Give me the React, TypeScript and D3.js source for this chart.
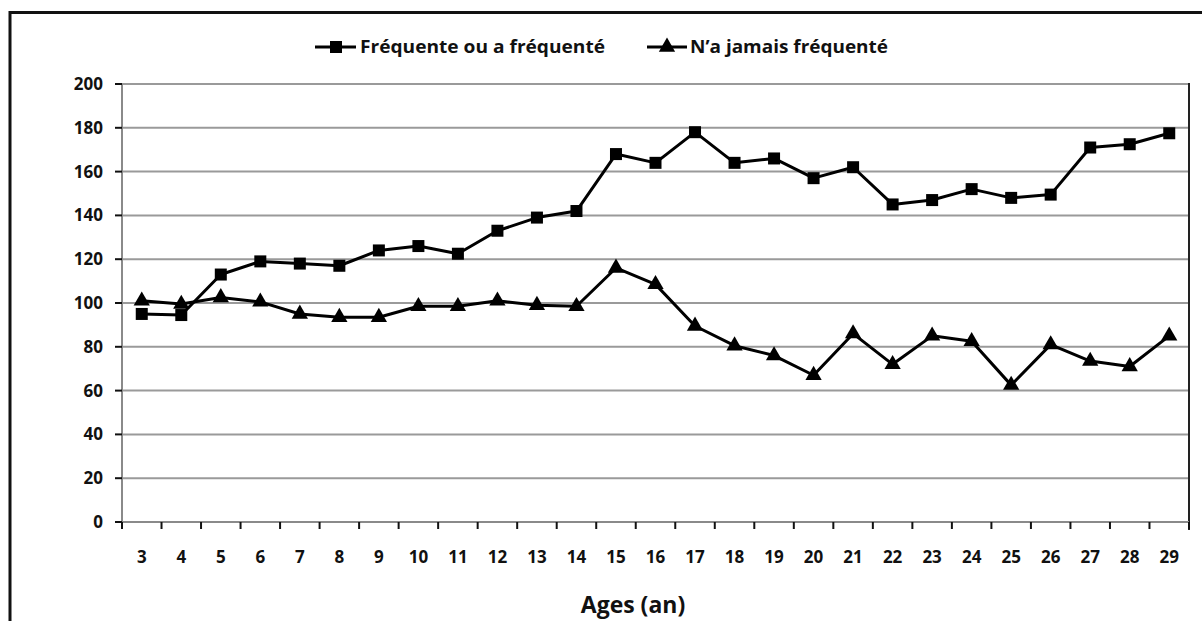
import React from "react";
import * as d3 from "d3";

const ages: number[] = [3,4,5,6,7,8,9,10,11,12,13,14,15,16,17,18,19,20,21,22,23,24,25,26,27,28,29];
const frequente: number[] = [95,94.5,113,119,118,117,124,126,122.5,133,139,142,168,164,178,164,166,157,162,145,147,152,148,149.5,171,172.5,177.5];
const jamais: number[] = [101,99.5,102.5,100.5,95,93.5,93.5,98.5,98.5,101,99,98.5,116,108.5,89.5,80.5,76,67,86,72,85,82.5,62.5,81,73.5,71,85];
const yTicks: number[] = [0,20,40,60,80,100,120,140,160,180,200];
const seriesNames: string[] = ["Fréquente ou a fréquenté", "N\u2019a jamais fréquenté"];
const xTitle = "Ages (an)";

const FONT = "'Open Sans', 'DejaVu Sans', sans-serif";

export default function App() {
  const W = 1202, H = 621;
  const left = 122, right = 1189, top = 84, bottom = 522;
  const x = d3.scaleBand<number>().domain(ages).range([left, right]).padding(0);
  const y = d3.scaleLinear().domain([0, 200]).range([bottom, top]);
  const cx = (a: number) => (x(a) as number) + x.bandwidth() / 2;

  const line = d3.line<[number, number]>().x(d => cx(d[0])).y(d => y(d[1]));
  const d1 = line(ages.map((a, i) => [a, frequente[i]] as [number, number])) || "";
  const d2 = line(ages.map((a, i) => [a, jamais[i]] as [number, number])) || "";

  const tri = d3.symbol().type(d3.symbolTriangle).size(115)() || "";
  const sq = 12;

  const boundaries = ages.map(a => x(a) as number).concat([right]);

  return (
    <svg width={W} height={H} style={{ position: "absolute", left: 0, top: 0, background: "#fff" }}>
      <rect x={0} y={0} width={W} height={H} fill="#fff" />
      {/* outer frame */}
      <rect x={10} y={12.5} width={1400} height={800} fill="none" stroke="#111" strokeWidth={3} />

      {/* gridlines */}
      {yTicks.filter(t => t > 0).map(t => (
        <line key={"g" + t} x1={left} x2={right} y1={y(t)} y2={y(t)} stroke="#9a9a9a" strokeWidth={2} />
      ))}
      {/* plot right border */}
      <line x1={right} x2={right} y1={top - 1} y2={bottom + 8} stroke="#222" strokeWidth={2} />
      {/* y axis */}
      <line x1={left} x2={left} y1={top} y2={bottom} stroke="#8a8a8a" strokeWidth={2} />
      {yTicks.map(t => (
        <g key={"yt" + t}>
          <line x1={left - 7} x2={left} y1={y(t)} y2={y(t)} stroke="#111" strokeWidth={2} />
          <text x={103} y={y(t)} dy="0.35em" textAnchor="end" fontFamily={FONT} fontWeight={700} fontSize={17} fill="#111">{t}</text>
        </g>
      ))}
      {/* x axis */}
      <line x1={left} x2={right} y1={bottom} y2={bottom} stroke="#8a8a8a" strokeWidth={2} />
      {boundaries.map((b, i) => (
        <line key={"xt" + i} x1={b} x2={b} y1={bottom} y2={bottom + 7} stroke="#111" strokeWidth={2} />
      ))}
      {ages.map(a => (
        <text key={"xl" + a} x={cx(a)} y={557} dy="0.35em" textAnchor="middle" fontFamily={FONT} fontWeight={700} fontSize={17} fill="#111">{a}</text>
      ))}
      <text x={633} y={605} dy="0.35em" textAnchor="middle" fontFamily={FONT} fontWeight={700} fontSize={23} fill="#111">{xTitle}</text>

      {/* series */}
      <path d={d1} fill="none" stroke="#000" strokeWidth={3} strokeLinejoin="round" />
      <path d={d2} fill="none" stroke="#000" strokeWidth={3} strokeLinejoin="round" />
      {ages.map((a, i) => (
        <rect key={"s" + a} x={cx(a) - sq / 2} y={y(frequente[i]) - sq / 2} width={sq} height={sq} fill="#000" />
      ))}
      {ages.map((a, i) => (
        <path key={"t" + a} d={tri} transform={`translate(${cx(a)},${y(jamais[i])})`} fill="#000" />
      ))}

      {/* legend */}
      <g>
        <line x1={315} x2={356} y1={47} y2={47} stroke="#000" strokeWidth={3} />
        <rect x={336 - sq / 2} y={47 - sq / 2} width={sq} height={sq} fill="#000" />
        <text x={360} y={47} dy="0.35em" fontFamily={FONT} fontWeight={700} fontSize={18} fill="#111" textLength={245} lengthAdjust="spacingAndGlyphs">{seriesNames[0]}</text>
        <line x1={647} x2={687} y1={47} y2={47} stroke="#000" strokeWidth={3} />
        <path d={tri} transform="translate(667,47)" fill="#000" />
        <text x={690} y={47} dy="0.35em" fontFamily={FONT} fontWeight={700} fontSize={18} fill="#111" textLength={198} lengthAdjust="spacingAndGlyphs">{seriesNames[1]}</text>
      </g>
    </svg>
  );
}
